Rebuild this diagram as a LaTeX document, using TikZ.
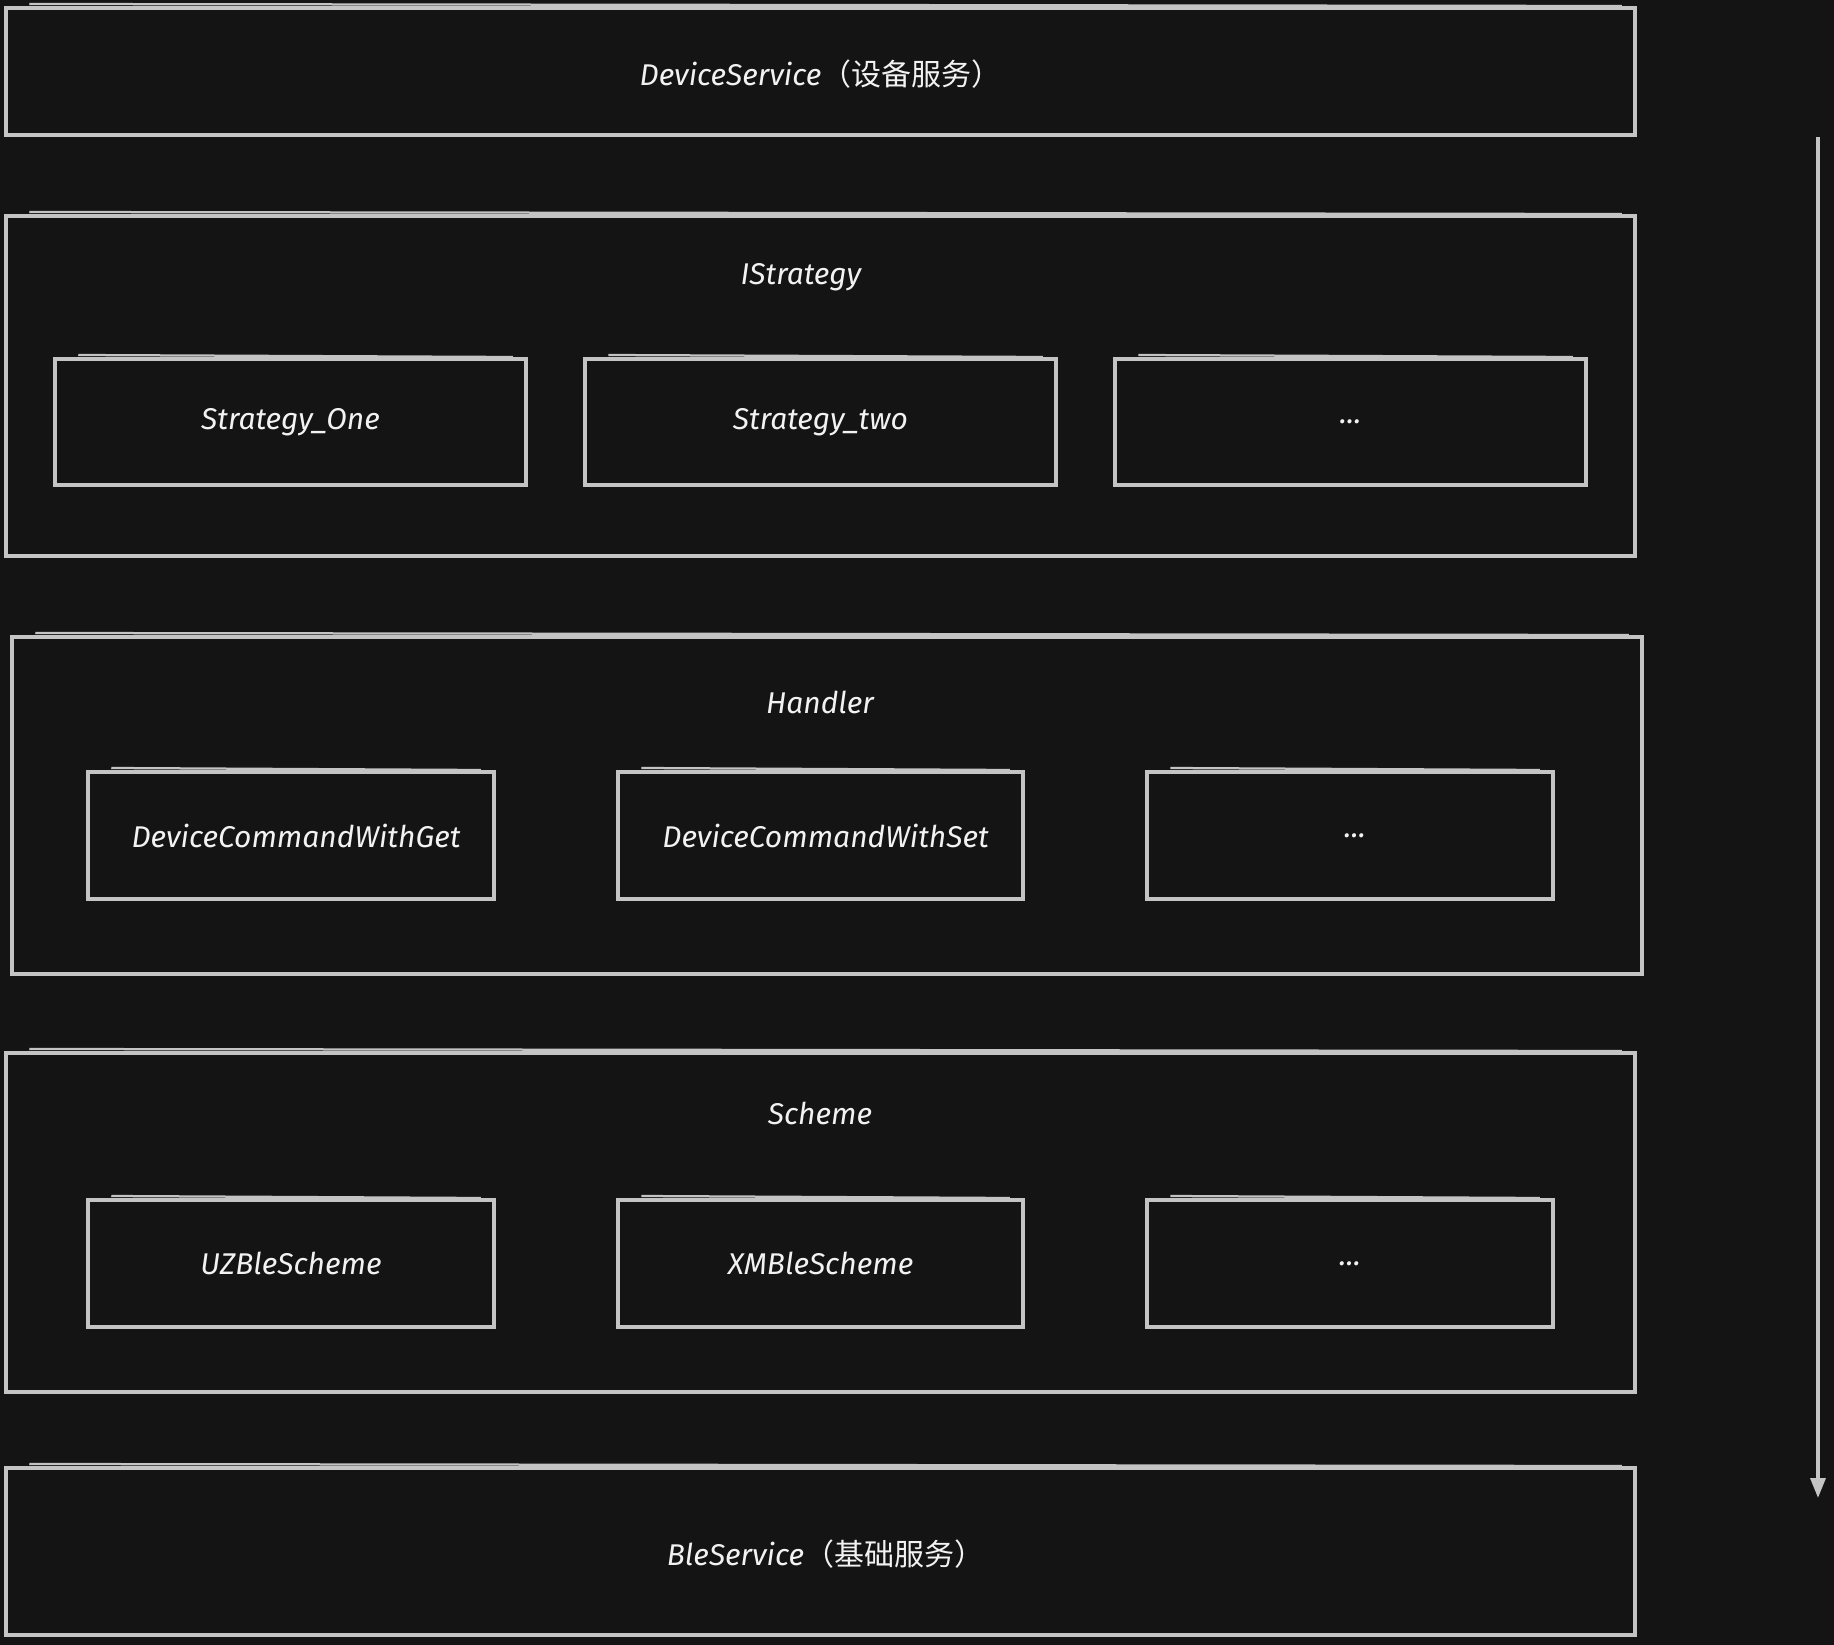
\documentclass[tikz,border=0pt]{standalone}
\usepackage{fontspec}
\setmainfont{Fira Sans}
\newfontfamily\cjk{Noto Sans CJK SC}
\usetikzlibrary{fit,arrows.meta}
\definecolor{bgc}{HTML}{141414}
\definecolor{linec}{HTML}{C4C4C4}
\definecolor{txtc}{HTML}{F2F2F2}
\tikzset{
  x=0.4pt, y=-0.4pt,
  box/.style={draw=linec, line width=1.4pt, inner sep=0pt},
  lbl/.style={text=txtc, font=\itshape\fontsize{12}{14}\selectfont, inner sep=0pt, anchor=center},
  sketch/.style={draw=linec, line width=0.9pt},
  flow/.style={draw=linec, line width=1.4pt, -{Triangle[length=8pt,width=6pt]}}
}
\begin{document}
\begin{tikzpicture}
\fill[bgc] (0,0) rectangle (1834,1645);
\useasboundingbox (0,0) rectangle (1834,1645);

% top service
\node[box, fit={(6,8)(1635,135)}] (dev) {};
\node[lbl] (devlbl) at ([yshift=-1pt]dev.center) {DeviceService{\cjk（设备服务）}};

% IStrategy layer
\node[box, fit={(6,216)(1635,556)}] (strat) {};
\node[lbl] (stratlbl) at (801,277) {IStrategy};
\node[box, fit={(55,359)(526,485)}] (s1) {};
\node[box, fit={(585,359)(1056,485)}] (s2) {};
\node[box, fit={(1115,359)(1586,485)}] (s3) {};
\node[lbl] (s1lbl) at (s1.center) {Strategy\_One};
\node[lbl] (s2lbl) at (s2.center) {Strategy\_two};
\node[lbl] (s3lbl) at (s3.center) {...};

% Handler layer
\node[box, fit={(12,637)(1642,974)}] (hand) {};
\node[lbl] (handlbl) at (820,702) {Handler};
\node[box, fit={(88,772)(494,899)}] (h1) {};
\node[box, fit={(618,772)(1023,899)}] (h2) {};
\node[box, fit={(1147,772)(1553,899)}] (h3) {};
\node[lbl] (h1lbl) at ([xshift=2pt]h1.center) {DeviceCommandWithGet};
\node[lbl] (h2lbl) at ([xshift=2pt]h2.center) {DeviceCommandWithSet};
\node[lbl] (h3lbl) at ([xshift=2pt]h3.center) {...};

% Scheme layer
\node[box, fit={(6,1053)(1635,1392)}] (sch) {};
\node[lbl] (schlbl) at (820,1113) {Scheme};
\node[box, fit={(88,1200)(494,1327)}] (c1) {};
\node[box, fit={(618,1200)(1023,1327)}] (c2) {};
\node[box, fit={(1147,1200)(1553,1327)}] (c3) {};
\node[lbl] (c1lbl) at (c1.center) {UZBleScheme};
\node[lbl] (c2lbl) at (c2.center) {XMBleScheme};
\node[lbl] (c3lbl) at (c3.center) {...};

% bottom service
\node[box, fit={(6,1468)(1635,1635)}] (ble) {};
\node[lbl] (blelbl) at ([xshift=2pt,yshift=-1pt]ble.center) {BleService{\cjk（基础服务）}};

% hand-drawn doubled top strokes
\foreach \n in {dev,strat,s1,s2,s3,hand,h1,h2,h3,sch,c1,c2,c3,ble}
  \draw[sketch] ([xshift=10pt,yshift=0.9pt]\n.north west) -- ([xshift=-6pt,yshift=0.1pt]\n.north east);

% direction arrow
\coordinate (atop) at (1818,137);
\coordinate (abot) at (1818,1498);
\draw[flow] (atop) -- (abot);
\end{tikzpicture}
\end{document}
